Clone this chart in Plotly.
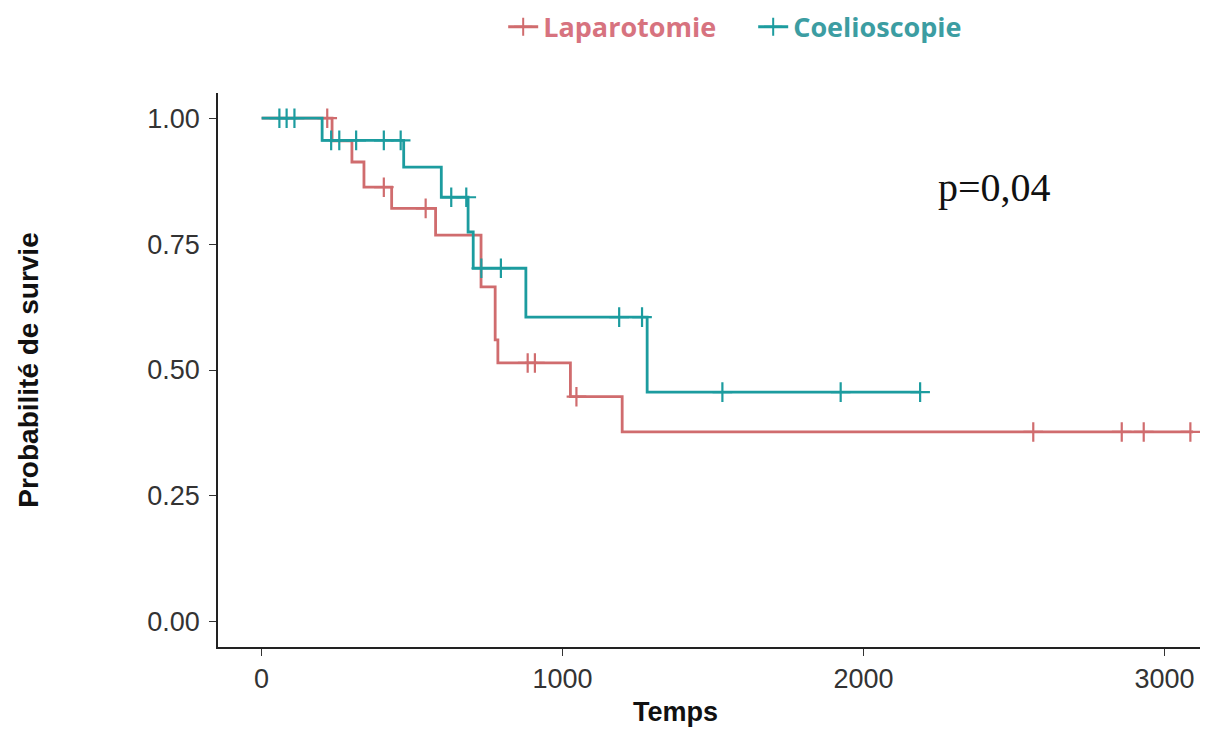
import plotly.graph_objects as go

# Kaplan-Meier step data (time, survival)
lap_t = [0, 234, 300, 340, 432, 578, 729, 776, 785, 1026, 1198, 3095]
lap_s = [1.0, 0.955, 0.913, 0.863, 0.821, 0.768, 0.665, 0.56, 0.514, 0.447, 0.377, 0.377]
lap_censor = [218, 406, 545, 884, 908, 1046, 2564, 2858, 2931, 3086]

coe_t = [0, 201, 472, 597, 686, 703, 878, 1281, 2188]
coe_s = [1.0, 0.956, 0.903, 0.843, 0.774, 0.702, 0.605, 0.456, 0.456]
coe_censor = [59, 83, 109, 231, 258, 314, 406, 462, 630, 680, 730, 795, 1188, 1264, 1531, 1924, 2188]

series_names = ["Laparotomie", "Coelioscopie"]
colors = ["#D06C6E", "#1C9C9F"]
legend_text_colors = ["#D7737F", "#3C9DA2"]
x_ticks = [0, 1000, 2000, 3000]
y_ticks = [0.0, 0.25, 0.5, 0.75, 1.0]
y_tick_text = ["0.00", "0.25", "0.50", "0.75", "1.00"]
p_text = "p=0,04"
p_pos = (2435, 0.862)


def surv_at(ts, ss, t):
    val = ss[0]
    for ti, si in zip(ts, ss):
        if ti <= t:
            val = si
    return val


fig = go.Figure()
for name, col, tcol, ts, ss, cens in [
    (series_names[0], colors[0], legend_text_colors[0], lap_t, lap_s, lap_censor),
    (series_names[1], colors[1], legend_text_colors[1], coe_t, coe_s, coe_censor),
]:
    fig.add_trace(go.Scatter(
        x=ts, y=ss, mode="lines", line=dict(color=col, width=2.8, shape="hv"),
        name=name, legendgroup=name, showlegend=False, hoverinfo="skip"))
    fig.add_trace(go.Scatter(
        x=cens, y=[surv_at(ts, ss, c) for c in cens], mode="markers",
        marker=dict(symbol="cross-thin", size=14, color=col,
                    line=dict(color=col, width=2.2)),
        name=name, legendgroup=name, showlegend=False))
    fig.add_trace(go.Scatter(
        x=[None], y=[None], mode="lines+markers",
        name=f"<span style='color:{tcol}'><b>{name}</b></span>",
        legendgroup=name,
        line=dict(color=col, width=2.8),
        marker=dict(symbol="cross-thin", size=13, color=col,
                    line=dict(color=col, width=2))))

fig.add_annotation(
    x=p_pos[0], y=p_pos[1], xref="x", yref="y", text=p_text, showarrow=False,
    font=dict(family="Liberation Serif, Times New Roman, serif", size=40, color="#111"))

fig.add_annotation(
    x=0.466, y=-0.117, xref="paper", yref="paper", text="<b>Temps</b>", showarrow=False,
    xanchor="center", yanchor="middle",
    font=dict(family="Liberation Sans, Arial, sans-serif", size=27, color="#111"))

fig.update_layout(
    width=1215, height=730,
    margin=dict(l=210, r=23, t=85, b=91, autoexpand=False),
    plot_bgcolor="white", paper_bgcolor="white",
    showlegend=True,
    legend=dict(orientation="h", x=0.545, y=1.163, xanchor="center", yanchor="top",
                font=dict(family="Open Sans, sans-serif", size=27),
                itemwidth=30, tracegroupgap=0, bgcolor="rgba(0,0,0,0)",
                entrywidth=205, entrywidthmode="pixels"),
    xaxis=dict(range=[-145, 3118], tickvals=x_ticks, ticktext=[str(v) for v in x_ticks],
               showgrid=False, zeroline=False, showline=True, linecolor="#222", linewidth=1.6,
               ticks="outside", ticklen=7, tickcolor="#333", tickwidth=1.2,
               tickfont=dict(family="Liberation Sans, Arial, sans-serif", size=27, color="#333")),
    yaxis=dict(range=[-0.05, 1.05], tickvals=y_ticks, ticktext=y_tick_text,
               showgrid=False, zeroline=False, showline=True, linecolor="#222", linewidth=1.6,
               ticks="outside", ticklen=7, tickcolor="#333", tickwidth=1.2,
               ticklabelstandoff=4,
               tickfont=dict(family="Liberation Sans, Arial, sans-serif", size=27, color="#333"),
               title=dict(text="<b>Probabilité de survie</b>",
                          font=dict(family="Liberation Sans, Arial, sans-serif", size=28, color="#111"),
                          standoff=100)),
)

fig.write_html("out.html")
